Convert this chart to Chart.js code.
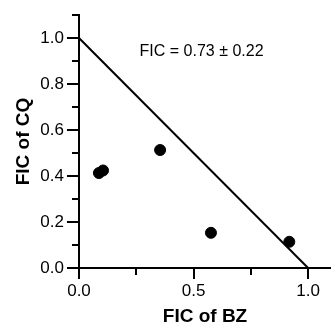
<!DOCTYPE html>
<html>
<head>
<meta charset="utf-8">
<script src="https://cdn.jsdelivr.net/npm/chart.js@4.4.1/dist/chart.umd.min.js"></script>
<style>
  html, body { margin: 0; padding: 0; background: #fff; }
  #wrap { width: 331px; height: 326px; }
</style>
</head>
<body>
<div id="wrap"><canvas id="fic-chart" width="331" height="326"></canvas></div>
<script>
    // data
    const bzFic = [0.087, 0.105, 0.354, 0.576, 0.918];
    const cqFic = [0.413, 0.424, 0.513, 0.153, 0.114];
    const additivityX = [0, 1];
    const additivityY = [1, 0];

    // tick labels / positions
    const xMajor = [0, 0.5, 1.0];
    const xMinor = [0.25, 0.75];
    const yMajor = [0, 0.2, 0.4, 0.6, 0.8, 1.0];
    const yMinor = [0.1, 0.3, 0.5, 0.7, 0.9, 1.1];
    const ficLabel = 'FIC = 0.73 \u00b1 0.22';

    const fontFamily = '"Liberation Sans", Arial, Helvetica, sans-serif';

    // minor ticks + the FIC annotation
    const extrasPlugin = {
        id: 'extras',
        afterDraw(chart) {
            const ctx = chart.ctx;
            const xs = chart.scales.x, ys = chart.scales.y;
            const area = chart.chartArea;
            ctx.save();
            ctx.strokeStyle = '#000';
            ctx.lineWidth = 2;
            ctx.beginPath();
            xMinor.forEach(v => {
                const px = Math.round(xs.getPixelForValue(v));
                ctx.moveTo(px, area.bottom);
                ctx.lineTo(px, area.bottom + 7);
            });
            yMinor.forEach(v => {
                const py = Math.round(ys.getPixelForValue(v));
                ctx.moveTo(area.left, py);
                ctx.lineTo(area.left - 7, py);
            });
            ctx.stroke();

            ctx.fillStyle = '#000';
            ctx.font = '16px ' + fontFamily;
            ctx.textAlign = 'center';
            ctx.textBaseline = 'middle';
            ctx.fillText(ficLabel, xs.getPixelForValue(0.535), ys.getPixelForValue(0.94));
            ctx.restore();
        }
    };

    const ctx = document.getElementById('fic-chart').getContext('2d');
    const ficChart = new Chart(ctx, {
        type: 'scatter',
        data: {
            datasets: [{
                label: 'FIC',
                data: bzFic.map((x, i) => ({ x: x, y: cqFic[i] })),
                backgroundColor: '#000',
                borderColor: '#000',
                pointRadius: 5.5,
                pointHoverRadius: 5.5
            }, {
                label: 'Additivity',
                type: 'line',
                data: additivityX.map((x, i) => ({ x: x, y: additivityY[i] })),
                borderColor: '#000',
                borderWidth: 2,
                pointRadius: 0,
                fill: false
            }]
        },
        options: {
            responsive: false,
            animation: false,
            layout: { autoPadding: false, padding: { top: 15, right: 0, bottom: 0, left: 0 } },
            plugins: { legend: { display: false }, tooltip: { enabled: false } },
            scales: {
                x: {
                    type: 'linear',
                    min: 0,
                    max: 1.1,
                    afterBuildTicks: s => { s.ticks = xMajor.map(v => ({ value: v })); },
                    afterFit: s => { s.height = 58; s.paddingLeft = 0; s.paddingRight = 0; },
                    border: { display: true, color: '#000', width: 2 },
                    grid: { drawOnChartArea: false, drawTicks: true, tickLength: 11, color: '#000', lineWidth: 2 },
                    ticks: {
                        color: '#000',
                        padding: 2,
                        font: { family: fontFamily, size: 17 },
                        callback: v => Number(v).toFixed(1)
                    },
                    title: {
                        display: true,
                        text: 'FIC of BZ',
                        color: '#000',
                        padding: 0,
                        font: { family: fontFamily, size: 19, weight: 'bold', lineHeight: 1 }
                    }
                },
                y: {
                    type: 'linear',
                    min: 0,
                    max: 1.1,
                    afterBuildTicks: s => { s.ticks = yMajor.map(v => ({ value: v })); },
                    afterFit: s => { s.width = 79; s.paddingTop = 0; s.paddingBottom = 0; },
                    border: { display: true, color: '#000', width: 2 },
                    grid: { drawOnChartArea: false, drawTicks: true, tickLength: 12, color: '#000', lineWidth: 2 },
                    ticks: {
                        color: '#000',
                        padding: 3,
                        font: { family: fontFamily, size: 17 },
                        callback: v => Number(v).toFixed(1)
                    },
                    title: {
                        display: true,
                        text: 'FIC of CQ',
                        color: '#000',
                        padding: { top: 14, bottom: 0 },
                        font: { family: fontFamily, size: 19, weight: 'bold', lineHeight: 1 }
                    }
                }
            }
        },
        plugins: [extrasPlugin]
    });
</script>
</body>
</html>
